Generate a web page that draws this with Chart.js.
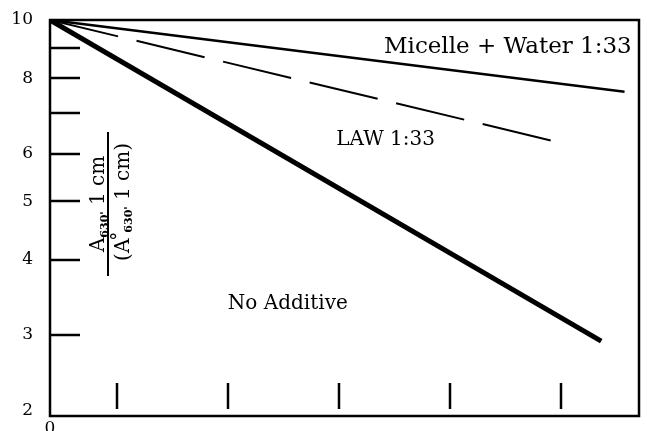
<!DOCTYPE html>
<html>
<head>
<meta charset="utf-8">
<script src="https://cdn.jsdelivr.net/npm/chart.js@4.4.1/dist/chart.umd.min.js"></script>
<style>
  html, body { margin: 0; padding: 0; background: #fff; }
  #wrap { width: 647px; height: 431px; }
</style>
</head>
<body>
<div id="wrap"><canvas id="c" width="647" height="431"></canvas></div>
<script>
// series (x in arbitrary time units, y = relative absorbance, log axis)
const micelleX = [0, 5.17];
const micelleY = [10, 7.6];
const lawX = [0, 4.52];
const lawY = [10, 6.3];
const noAddX = [0, 4.96];
const noAddY = [10, 2.93];

// axes
const yTickValues = [2.25, 3, 4, 5, 6, 7, 8, 9, 10];
const yTickLabels = ["2", "3", "4", "5", "6", "", "8", "", "10"];
const yMarkValues = [3, 4, 5, 6, 7, 8, 9];
const xMarkValues = [0.6, 1.6, 2.6, 3.6, 4.6];
const xTickValues = [0];
const xTickLabels = ["0"];

const FONT = "'DejaVu Serif', serif";

function pts(xs, ys) {
  return xs.map((x, i) => ({ x: x, y: ys[i] }));
}

// box, inward tick marks, curve labels and the rotated y title
const decorPlugin = {
  id: "decor",
  afterDraw(chart) {
    const ctx = chart.ctx;
    const a = chart.chartArea;
    const xs = chart.scales.x;
    const ys = chart.scales.y;
    ctx.save();
    ctx.strokeStyle = "#000";
    ctx.lineCap = "butt";

    ctx.lineWidth = 2.5;
    ctx.strokeRect(a.left, a.top, a.right - a.left, a.bottom - a.top);

    yMarkValues.forEach(function (v) {
      let py = Math.round(ys.getPixelForValue(v));
      ctx.beginPath();
      ctx.moveTo(a.left, py);
      ctx.lineTo(a.left + 30, py);
      ctx.stroke();
    });
    xMarkValues.forEach(function (v) {
      let px = Math.round(xs.getPixelForValue(v));
      ctx.beginPath();
      ctx.moveTo(px, a.bottom - 33);
      ctx.lineTo(px, a.bottom - 7);
      ctx.stroke();
    });

    ctx.fillStyle = "#000";
    ctx.textAlign = "center";
    ctx.textBaseline = "middle";
    ctx.font = "23px " + FONT;
    ctx.fillText("Micelle + Water 1:33", xs.getPixelForValue(4.12), ys.getPixelForValue(9.02));
    ctx.font = "20px " + FONT;
    ctx.fillText("LAW 1:33", xs.getPixelForValue(3.02), ys.getPixelForValue(6.32));
    ctx.fillText("No Additive", xs.getPixelForValue(2.14), ys.getPixelForValue(3.38));

    // y title: A630' 1 cm over (A°630' 1 cm), rotated
    ctx.translate(a.left + 58, ys.getPixelForValue(4.95));
    ctx.rotate(-Math.PI / 2);
    ctx.lineWidth = 2;
    ctx.beginPath();
    ctx.moveTo(-72, 0);
    ctx.lineTo(72, 0);
    ctx.stroke();
    ctx.textAlign = "left";
    ctx.textBaseline = "alphabetic";
    drawRuns(ctx, [
      { t: "A", f: "20px " + FONT, dy: 0 },
      { t: "630'", f: "bold 11px " + FONT, dy: 4 },
      { t: " 1 cm", f: "20px " + FONT, dy: 0 }
    ], 0, -4);
    drawRuns(ctx, [
      { t: "(A", f: "20px " + FONT, dy: 0 },
      { t: "°", f: "18px " + FONT, dy: -5, dx: -2 },
      { t: "630'", f: "bold 11px " + FONT, dy: 3, dx: -1 },
      { t: " 1 cm)", f: "20px " + FONT, dy: 0 }
    ], 2, 21);
    ctx.restore();
  }
};

function drawRuns(ctx, runs, cx, baseY) {
  let total = 0;
  runs.forEach(function (r) {
    ctx.font = r.f;
    r.w = ctx.measureText(r.t).width + (r.dx || 0);
    total += r.w;
  });
  let x = cx - total / 2;
  runs.forEach(function (r) {
    ctx.font = r.f;
    ctx.fillText(r.t, x + (r.dx || 0), baseY + r.dy);
    x += r.w;
  });
}

new Chart(document.getElementById("c"), {
  type: "scatter",
  data: {
    datasets: [
      {
        label: "Micelle + Water 1:33",
        data: pts(micelleX, micelleY),
        showLine: true,
        borderColor: "#000",
        borderWidth: 2.6,
        pointRadius: 0,
        fill: false
      },
      {
        label: "LAW 1:33",
        data: pts(lawX, lawY),
        showLine: true,
        borderColor: "#000",
        borderWidth: 2,
        borderDash: [70, 19],
        pointRadius: 0,
        fill: false
      },
      {
        label: "No Additive",
        data: pts(noAddX, noAddY),
        showLine: true,
        borderColor: "#000",
        borderWidth: 5,
        pointRadius: 0,
        fill: false
      }
    ]
  },
  options: {
    responsive: false,
    animation: false,
    layout: { padding: { top: 20, right: 8, left: 0, bottom: 0 } },
    plugins: {
      legend: { display: false },
      tooltip: { enabled: false }
    },
    scales: {
      x: {
        type: "linear",
        min: 0,
        max: 5.3,
        afterBuildTicks: function (scale) {
          scale.ticks = xTickValues.map(v => ({ value: v }));
        },
        afterFit: function (scale) {
          scale.height = 15;
          scale.paddingLeft = 0;
          scale.paddingRight = 0;
        },
        grid: { display: false, drawTicks: false },
        border: { display: false },
        ticks: {
          padding: 2,
          color: "#000",
          font: { family: FONT, size: 17 },
          maxRotation: 0,
          callback: function (v, i) { return xTickLabels[i]; }
        }
      },
      y: {
        type: "logarithmic",
        min: 2.2,
        max: 10,
        afterBuildTicks: function (scale) {
          scale.ticks = yTickValues.map(v => ({ value: v }));
        },
        afterFit: function (scale) {
          scale.width = 50;
          scale.paddingTop = 0;
          scale.paddingBottom = 0;
        },
        grid: { display: false, drawTicks: false },
        border: { display: false },
        ticks: {
          padding: 17,
          color: "#000",
          font: { family: FONT, size: 17 },
          autoSkip: false,
          callback: function (v, i) { return yTickLabels[i]; }
        }
      }
    }
  },
  plugins: [decorPlugin]
});
</script>
</body>
</html>
